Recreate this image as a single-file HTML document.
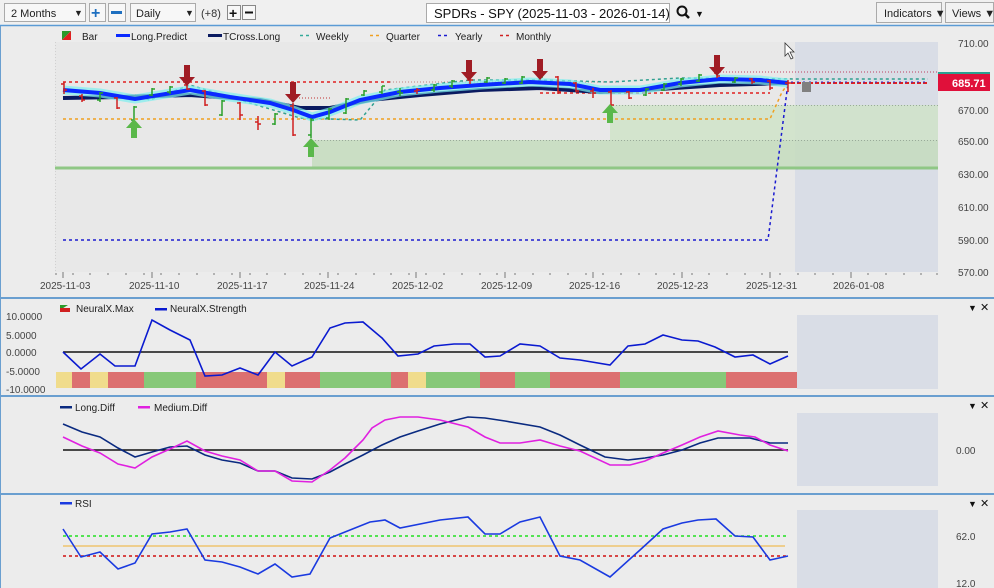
<!DOCTYPE html>
<html><head><meta charset="utf-8"><style>
html,body{margin:0;padding:0;width:994px;height:588px;overflow:hidden;background:#ededed;font-family:"Liberation Sans",sans-serif}
svg{display:block}
text{font-family:"Liberation Sans",sans-serif}
</style></head><body>
<svg width="994" height="588" viewBox="0 0 994 588" xmlns="http://www.w3.org/2000/svg">
<rect x="0" y="0" width="994" height="588" fill="#ececec"/>
<!-- toolbar -->
<rect x="0" y="0" width="994" height="25" fill="#f0f0f0"/>
<line x1="0" y1="25.5" x2="994" y2="25.5" stroke="#5b9bd5" stroke-width="1.5"/>
<rect x="4.5" y="3.5" width="81" height="18" fill="#f7f7f7" stroke="#aaa"/>
<text x="11" y="17" font-size="11" fill="#222">2 Months</text><text x="74" y="16" font-size="9" fill="#222">▼</text>
<rect x="89.5" y="3.5" width="16" height="18" fill="#f7f7f7" stroke="#aaa"/><text x="91" y="18" font-size="16" font-weight="bold" fill="#1e6fc0">+</text>
<rect x="108.5" y="3.5" width="17" height="18" fill="#f7f7f7" stroke="#aaa"/><rect x="111" y="11" width="11" height="3" fill="#1e6fc0"/>
<rect x="130.5" y="3.5" width="65" height="18" fill="#f7f7f7" stroke="#aaa"/>
<text x="136" y="17" font-size="11" fill="#222">Daily</text><text x="185" y="16" font-size="9" fill="#222">▼</text>
<text x="201" y="17" font-size="11" fill="#333">(+8)</text>
<rect x="227.5" y="5.5" width="13" height="14" fill="#f7f7f7" stroke="#888"/><text x="229" y="18" font-size="14" font-weight="bold" fill="#111">+</text>
<rect x="242.5" y="5.5" width="13" height="14" fill="#f7f7f7" stroke="#888"/><rect x="245" y="11.5" width="8" height="2" fill="#111"/>
<rect x="426.5" y="3.5" width="243" height="19" fill="#fff" stroke="#aaa"/>
<text x="434" y="18" font-size="13" fill="#111">SPDRs - SPY (2025-11-03 - 2026-01-14)</text>
<circle cx="682" cy="11" r="4.5" fill="none" stroke="#111" stroke-width="2"/><line x1="685" y1="14" x2="689" y2="18" stroke="#111" stroke-width="2.5"/>
<text x="695" y="17" font-size="9" fill="#111">▼</text>
<rect x="876.5" y="2.5" width="65" height="20" fill="#f2f2f2" stroke="#aaa"/><text x="884" y="17" font-size="11" fill="#222">Indicators ▼</text>
<rect x="945.5" y="2.5" width="48" height="20" fill="#f2f2f2" stroke="#aaa"/><text x="952" y="17" font-size="11" fill="#222">Views ▼</text>

<!-- main plot bg -->
<rect x="55" y="42" width="883" height="230" fill="#e8e8e8"/>
<line x1="55.5" y1="42" x2="55.5" y2="272" stroke="#d0d0d0" stroke-dasharray="1,2"/>
<rect x="795" y="42" width="143" height="230" fill="#d9dde6"/>
<rect x="312" y="140" width="626" height="28" fill="#c4dcbd" opacity="0.85"/>
<rect x="610" y="105" width="328" height="35" fill="#cfe3c8" opacity="0.85"/>
<line x1="55" y1="168" x2="938" y2="168" stroke="#8fc785" stroke-width="3"/>
<line x1="610" y1="105.5" x2="938" y2="105.5" stroke="#9a9" stroke-dasharray="1,2"/>
<line x1="312" y1="140.5" x2="938" y2="140.5" stroke="#9a9" stroke-dasharray="1,2"/>
<!-- legend -->
<polygon points="62,31 71,31 62,40" fill="#2a9a2a"/><polygon points="71,31 71,40 62,40" fill="#e02020"/>
<text x="82" y="40" font-size="10" fill="#222">Bar</text>
<rect x="116" y="34" width="14" height="3" fill="#0a2aff"/><text x="131" y="40" font-size="10" fill="#222">Long.Predict</text>
<rect x="208" y="34" width="14" height="3" fill="#0a1a60"/><text x="223" y="40" font-size="10" fill="#222">TCross.Long</text>
<line x1="300" y1="35.5" x2="312" y2="35.5" stroke="#3a9" stroke-dasharray="3,3" stroke-width="1.5"/><text x="316" y="40" font-size="10" fill="#222">Weekly</text>
<line x1="370" y1="35.5" x2="382" y2="35.5" stroke="#f0a020" stroke-dasharray="3,3" stroke-width="1.5"/><text x="386" y="40" font-size="10" fill="#222">Quarter</text>
<line x1="438" y1="35.5" x2="450" y2="35.5" stroke="#1a1ad0" stroke-dasharray="3,3" stroke-width="1.5"/><text x="455" y="40" font-size="10" fill="#222">Yearly</text>
<line x1="500" y1="35.5" x2="512" y2="35.5" stroke="#d02020" stroke-dasharray="3,3" stroke-width="1.5"/><text x="516" y="40" font-size="10" fill="#222">Monthly</text>
<!-- reference lines -->
<polyline points="63,240 768,240 788,83" fill="none" stroke="#1a1ad0" stroke-width="1.5" stroke-dasharray="3,3"/>
<polyline points="63,119 770,119 782,92 788,84" fill="none" stroke="#f0a020" stroke-width="1.5" stroke-dasharray="3,3"/>
<polyline points="63,82 390,82" fill="none" stroke="#e02020" stroke-width="1.5" stroke-dasharray="3,3"/>
<polyline points="540,93 770,93" fill="none" stroke="#e02020" stroke-width="1.5" stroke-dasharray="3,3"/>
<polyline points="290,98 330,98" fill="none" stroke="#c03030" stroke-width="1" stroke-dasharray="1,2"/>
<polyline points="390,82 620,82" fill="none" stroke="#c08080" stroke-width="1" stroke-dasharray="1,2"/>
<polyline points="720,72 938,72" fill="none" stroke="#c04060" stroke-width="1" stroke-dasharray="1,2"/>
<polyline points="135,95 150,100 190,85 300,118 360,120 385,90 470,80 540,80 610,82 680,78 800,79 928,79" fill="none" stroke="#30a090" stroke-width="1.5" stroke-dasharray="3,3"/>
<polyline points="785,83 928,83" fill="none" stroke="#e02020" stroke-width="2" stroke-dasharray="4,2"/>
<polyline points="785,82 928,82" fill="none" stroke="#2a2ad0" stroke-width="1" stroke-dasharray="2,4"/>
<rect x="938" y="72" width="52" height="3" fill="#2aa090"/>
<rect x="938" y="74" width="52" height="17" fill="#e0103a"/>
<text x="952" y="87" font-size="11" font-weight="bold" fill="#fff">685.71</text>
<rect x="802" y="82" width="9" height="10" fill="#808080"/>
<!-- TCross -->
<polyline points="63,98 120,97 190,95 260,100 300,108 330,108 370,100 420,95 480,90 540,88 600,92 660,89 720,85 788,83" fill="none" stroke="#0a1a60" stroke-width="4"/>
<!-- Long predict with glow -->
<polyline points="63,90 100,93 135,99 190,90 230,97 270,103 293,110 312,117 330,112 360,100 400,92 440,88 480,85 530,82 570,84 600,90 640,90 680,83 720,79 760,80 788,83" fill="none" stroke="#7ef0f0" stroke-width="9" opacity="0.7"/>
<polyline points="63,90 100,93 135,99 190,90 230,97 270,103 293,110 312,117 330,112 360,100 400,92 440,88 480,85 530,82 570,84 600,90 640,90 680,83 720,79 760,80 788,83" fill="none" stroke="#0a2aff" stroke-width="4"/>
<!-- bars -->
<g stroke-width="1.5">
<path d="M64,82v12M61,84h3M64,90h3" stroke="#d02020"/>
<path d="M82,94v8M79,96h3M82,100h3" stroke="#d02020"/>
<path d="M100,92v10M97,100h3M100,93h3" stroke="#2aa02a"/>
<path d="M117,97v12M114,98h3M117,108h3" stroke="#d02020"/>
<path d="M134,106v16M131,120h3M134,107h3" stroke="#2aa02a"/>
<path d="M152,88v8M149,95h3M152,89h3" stroke="#2aa02a"/>
<path d="M170,86v8M167,92h3M170,87h3" stroke="#2aa02a"/>
<path d="M187,84v6M184,85h3M187,89h3" stroke="#d02020"/>
<path d="M205,90v16M202,91h3M205,105h3" stroke="#d02020"/>
<path d="M222,100v16M219,115h3M222,101h3" stroke="#2aa02a"/>
<path d="M240,102v18M237,103h3M240,115h3" stroke="#d02020"/>
<path d="M258,116v14M255,122h3M258,124h3" stroke="#d02020"/>
<path d="M275,113v12M272,124h3M275,114h3" stroke="#2aa02a"/>
<path d="M293,103v33M290,106h3M293,135h3" stroke="#d02020"/>
<path d="M311,118v20M308,135h3M311,120h3" stroke="#2aa02a"/>
<path d="M329,108v12M326,118h3M329,109h3" stroke="#2aa02a"/>
<path d="M346,98v16M343,113h3M346,99h3" stroke="#2aa02a"/>
<path d="M364,90v6M361,95h3M364,91h3" stroke="#2aa02a"/>
<path d="M382,86v8M379,92h3M382,86h3" stroke="#2aa02a"/>
<path d="M400,88v8M397,92h3M400,93h3" stroke="#2aa02a"/>
<path d="M417,88v6M414,91h3M417,90h3" stroke="#d02020"/>
<path d="M434,84v8M431,90h3M434,85h3" stroke="#2aa02a"/>
<path d="M452,80v8M449,86h3M452,81h3" stroke="#2aa02a"/>
<path d="M470,78v6M467,80h3M470,80h3" stroke="#d02020"/>
<path d="M487,77v6M484,82h3M487,78h3" stroke="#2aa02a"/>
<path d="M505,78v6M502,83h3M505,79h3" stroke="#2aa02a"/>
<path d="M522,76v8M519,83h3M522,77h3" stroke="#2aa02a"/>
<path d="M540,72v6M537,74h3M540,77h3" stroke="#2aa02a"/>
<path d="M558,76v18M555,77h3M558,92h3" stroke="#d02020"/>
<path d="M576,82v10M573,83h3M576,91h3" stroke="#d02020"/>
<path d="M593,88v10M590,91h3M593,93h3" stroke="#d02020"/>
<path d="M611,90v17M608,92h3M611,105h3" stroke="#d02020"/>
<path d="M629,91v8M626,92h3M629,98h3" stroke="#d02020"/>
<path d="M646,88v8M643,95h3M646,89h3" stroke="#2aa02a"/>
<path d="M664,83v8M661,90h3M664,84h3" stroke="#2aa02a"/>
<path d="M681,78v8M678,84h3M681,79h3" stroke="#2aa02a"/>
<path d="M699,74v8M696,81h3M699,75h3" stroke="#2aa02a"/>
<path d="M717,72v6M714,73h3M717,76h3" stroke="#d02020"/>
<path d="M735,77v6M732,82h3M735,78h3" stroke="#2aa02a"/>
<path d="M752,78v6M749,79h3M752,82h3" stroke="#d02020"/>
<path d="M770,80v10M767,81h3M770,88h3" stroke="#d02020"/>
<path d="M788,80v12M785,83h6" stroke="#d02020"/>
</g>
<!-- arrows -->
<g fill="#a01c24">
<path d="M184,65h6v12h5l-8,9l-8,-9h5z"/>
<path d="M290,82h6v12h5l-8,9l-8,-9h5z"/>
<path d="M466,60h6v12h5l-8,9l-8,-9h5z"/>
<path d="M537,59h6v12h5l-8,9l-8,-9h5z"/>
<path d="M714,55h6v12h5l-8,9l-8,-9h5z"/>
</g>
<g fill="#5ab84a">
<path d="M131,138h6v-10h5l-8,-9l-8,9h5z"/>
<path d="M308,157h6v-10h5l-8,-9l-8,9h5z"/>
<path d="M607,123h6v-10h5l-8,-9l-8,9h5z"/>
</g>
<!-- cursor -->
<path d="M785,43v13l3,-3l3,6l2,-1l-3,-6h4z" fill="#fff" stroke="#333" stroke-width="0.8"/>
<!-- price axis -->
<g font-size="10" fill="#444">
<text x="958" y="47">710.00</text><text x="958" y="114">670.00</text><text x="958" y="145">650.00</text>
<text x="958" y="178">630.00</text><text x="958" y="211">610.00</text><text x="958" y="244">590.00</text><text x="958" y="276">570.00</text>
</g>
<!-- date axis -->
<g stroke="#777" stroke-width="1">
<path d="M56,273v2M73,273v2M90,273v2M108,273v2M126,273v2M144,273v2M161,273v2M179,273v2M197,273v2M214,273v2M232,273v2M250,273v2M267,273v2M285,273v2M303,273v2M320,273v2M338,273v2M356,273v2M374,273v2M391,273v2M409,273v2M426,273v2M444,273v2M462,273v2M480,273v2M497,273v2M515,273v2M533,273v2M550,273v2M568,273v2M586,273v2M603,273v2M621,273v2M639,273v2M656,273v2M674,273v2M692,273v2M709,273v2M727,273v2M745,273v2M762,273v2M780,273v2M798,273v2M815,273v2M833,273v2M851,273v2M868,273v2M886,273v2M904,273v2M921,273v2M937,273v2"/>
<path d="M63,272v6M152,272v6M240,272v6M328,272v6M416,272v6M505,272v6M593,272v6M682,272v6M770,272v6M851,272v6"/>
</g>
<g font-size="10" fill="#444">
<text x="40" y="289">2025-11-03</text><text x="129" y="289">2025-11-10</text><text x="217" y="289">2025-11-17</text>
<text x="304" y="289">2025-11-24</text><text x="392" y="289">2025-12-02</text><text x="481" y="289">2025-12-09</text>
<text x="569" y="289">2025-12-16</text><text x="657" y="289">2025-12-23</text><text x="746" y="289">2025-12-31</text><text x="833" y="289">2026-01-08</text>
</g>
<line x1="0" y1="298" x2="994" y2="298" stroke="#6a9fd0" stroke-width="2"/>

<!-- panel 2 -->
<rect x="797" y="315" width="141" height="74" fill="#d9dde6"/>
<g font-size="10" fill="#444">
<text x="6" y="320">10.0000</text><text x="6" y="339">5.0000</text><text x="6" y="356">0.0000</text><text x="6" y="375">-5.0000</text><text x="6" y="393">-10.0000</text>
</g>
<text x="968" y="311" font-size="9" fill="#111">▼</text><text x="980" y="311" font-size="11" fill="#111">✕</text>
<polygon points="60,305 68,305 60,310" fill="#2a9a2a"/><rect x="60" y="308" width="10" height="4" fill="#d02020"/>
<text x="76" y="312" font-size="10" fill="#222">NeuralX.Max</text>
<rect x="155" y="308" width="12" height="2.5" fill="#0a1ad0"/><text x="170" y="312" font-size="10" fill="#222">NeuralX.Strength</text>
<g>
<rect x="56" y="372" width="16" height="16" fill="#f0dc8c"/><rect x="72" y="372" width="18" height="16" fill="#dc7070"/>
<rect x="90" y="372" width="18" height="16" fill="#f0dc8c"/><rect x="108" y="372" width="36" height="16" fill="#dc7070"/>
<rect x="144" y="372" width="52" height="16" fill="#86c878"/><rect x="196" y="372" width="71" height="16" fill="#dc7070"/>
<rect x="267" y="372" width="18" height="16" fill="#f0dc8c"/><rect x="285" y="372" width="35" height="16" fill="#dc7070"/>
<rect x="320" y="372" width="71" height="16" fill="#86c878"/><rect x="391" y="372" width="17" height="16" fill="#dc7070"/>
<rect x="408" y="372" width="18" height="16" fill="#f0dc8c"/><rect x="426" y="372" width="54" height="16" fill="#86c878"/>
<rect x="480" y="372" width="35" height="16" fill="#dc7070"/><rect x="515" y="372" width="35" height="16" fill="#86c878"/>
<rect x="550" y="372" width="70" height="16" fill="#dc7070"/><rect x="620" y="372" width="106" height="16" fill="#86c878"/>
<rect x="726" y="372" width="71" height="16" fill="#dc7070"/>
</g>
<line x1="63" y1="352" x2="788" y2="352" stroke="#111" stroke-width="1.5"/>
<polyline points="63,352 81,369 100,354 115,366 135,366 152,320 170,330 190,340 205,376 222,375 240,368 258,375 275,352 292,366 312,357 330,328 345,323 363,322 382,338 398,356 418,354 434,346 454,344 470,344 485,357 500,356 520,344 540,346 560,358 580,360 610,365 628,346 645,344 663,335 682,340 698,341 715,347 735,357 753,355 770,364 788,356" fill="none" stroke="#0a1ad0" stroke-width="1.6"/>
<line x1="0" y1="396" x2="994" y2="396" stroke="#6a9fd0" stroke-width="2"/>

<!-- panel 3 -->
<rect x="797" y="413" width="141" height="73" fill="#d9dde6"/>
<text x="968" y="409" font-size="9" fill="#111">▼</text><text x="980" y="409" font-size="11" fill="#111">✕</text>
<text x="956" y="454" font-size="10" fill="#444">0.00</text>
<rect x="60" y="406" width="12" height="2.5" fill="#0a2a80"/><text x="75" y="411" font-size="10" fill="#222">Long.Diff</text>
<rect x="138" y="406" width="12" height="2.5" fill="#e020e0"/><text x="154" y="411" font-size="10" fill="#222">Medium.Diff</text>
<line x1="63" y1="450" x2="788" y2="450" stroke="#111" stroke-width="1.5"/>
<polyline points="63,424 82,432 100,437 118,448 135,457 152,452 170,447 187,446 205,455 222,460 240,463 258,471 275,471 292,478 312,479 330,472 345,464 363,455 382,445 400,437 418,431 440,424 468,417 485,418 505,421 540,427 560,435 580,445 605,457 628,460 645,458 663,455 682,450 700,443 718,438 750,438 770,443 788,443" fill="none" stroke="#0a2a80" stroke-width="1.6"/>
<polyline points="63,437 82,446 100,453 118,464 135,468 152,457 170,449 187,441 205,451 222,456 240,460 258,471 275,471 292,481 312,482 330,470 345,458 363,440 372,428 385,420 400,417 418,417 440,420 468,427 485,437 500,443 520,443 540,440 560,446 580,451 610,465 630,465 645,461 663,453 682,445 700,437 718,431 740,435 755,437 770,445 788,451" fill="none" stroke="#e020e0" stroke-width="1.6"/>
<line x1="0" y1="494" x2="994" y2="494" stroke="#6a9fd0" stroke-width="2"/>

<!-- panel 4 -->
<rect x="797" y="510" width="141" height="78" fill="#d9dde6"/>
<text x="968" y="507" font-size="9" fill="#111">▼</text><text x="980" y="507" font-size="11" fill="#111">✕</text>
<text x="956" y="540" font-size="10" fill="#444">62.0</text>
<text x="956" y="587" font-size="10" fill="#444">12.0</text>
<rect x="60" y="502" width="12" height="2.5" fill="#1a3ae0"/><text x="75" y="507" font-size="10" fill="#222">RSI</text>
<line x1="63" y1="536" x2="788" y2="536" stroke="#20e020" stroke-width="1.5" stroke-dasharray="3,3"/>
<line x1="63" y1="546" x2="785" y2="546" stroke="#f0b030" stroke-width="1"/>
<line x1="63" y1="556" x2="788" y2="556" stroke="#d01010" stroke-width="1.5" stroke-dasharray="3,3"/>
<polyline points="63,529 81,557 100,552 118,569 135,563 152,534 170,532 187,529 205,560 222,562 240,567 258,574 275,564 292,577 310,574 330,538 345,532 370,522 385,520 400,528 440,520 468,517 485,534 500,534 520,522 540,517 560,556 580,560 610,577 640,550 663,529 682,523 698,520 716,519 735,536 753,537 770,560 788,556" fill="none" stroke="#1a3ae0" stroke-width="1.6"/>
<line x1="0" y1="26" x2="0" y2="588" stroke="#6a9fd0" stroke-width="2"/>
</svg>
</body></html>
